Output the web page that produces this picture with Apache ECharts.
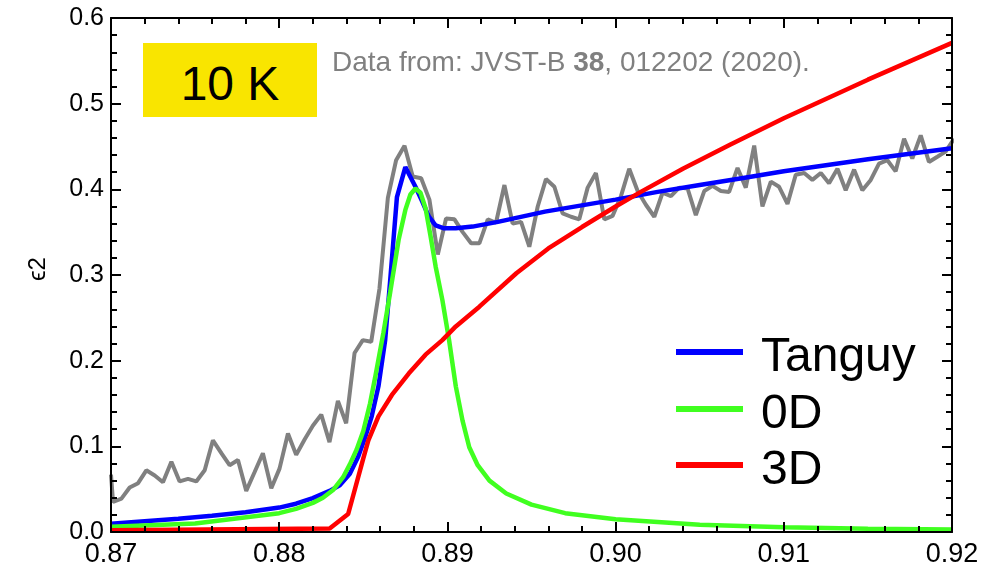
<!DOCTYPE html>
<html>
<head>
<meta charset="utf-8">
<script src="https://cdn.jsdelivr.net/npm/echarts@6/dist/echarts.min.js"></script>
<style>
  html, body { margin: 0; padding: 0; background: #ffffff; }
  #wrap { position: relative; width: 1000px; height: 574px; }
  .layer { position: absolute; left: 0; top: 0; width: 1000px; height: 574px; }
  #curves { z-index: 1; }
  #frame { z-index: 2; }
  .note { position: absolute; z-index: 3; font-family: "Liberation Sans", Arial, Helvetica, sans-serif; white-space: nowrap; }
  #tempBox { left: 143px; top: 43px; width: 174px; height: 74px; background: #f9e500; }
  #tempText { left: 143px; top: 60px; width: 174px; text-align: center; font-size: 48px; line-height: 48px; color: #000; }
  #source { left: 332px; top: 48px; font-size: 28px; line-height: 28px; color: #808080; }
  #source b { font-weight: bold; }
  #yName { left: 7px; top: 254px; width: 60px; height: 30px; text-align: center; font-size: 24px; line-height: 30px; color: #000; transform: rotate(-90deg); }
  .key { position: absolute; z-index: 3; left: 676px; width: 67px; height: 6px; }
  .keyText { left: 761px; font-size: 48px; line-height: 48px; color: #000; }
</style>
</head>
<body>
<div id="wrap">
  <div class="layer" id="curves"></div>
  <div class="layer" id="frame"></div>
  <div class="note" id="tempBox"></div>
  <div class="note" id="tempText">10 K</div>
  <div class="note" id="source">Data from: JVST-B <b>38</b>, 012202 (2020).</div>
  <div class="note" id="yName">ϵ2</div>
  <div id="legend"></div>
</div>
<script>
// Measured absorption spectrum (grey trace): photon energy and epsilon2
const scanX = [
  0.87000, 0.87012, 0.87062, 0.87111, 0.87161, 0.87210, 0.87260, 0.87309, 0.87359, 0.87408, 0.87458,
  0.87507, 0.87557, 0.87606, 0.87656, 0.87705, 0.87755, 0.87804, 0.87854, 0.87903, 0.87953,
  0.88002, 0.88052, 0.88101, 0.88151, 0.88200, 0.88250, 0.88299, 0.88349, 0.88398, 0.88448,
  0.88497, 0.88547, 0.88596, 0.88646, 0.88695, 0.88745, 0.88794, 0.88844, 0.88893, 0.88943,
  0.88992, 0.89042, 0.89091, 0.89141, 0.89190, 0.89240, 0.89289, 0.89339, 0.89388, 0.89438,
  0.89487, 0.89537, 0.89586, 0.89636, 0.89685, 0.89735, 0.89784, 0.89834, 0.89883, 0.89933,
  0.89982, 0.90032, 0.90081, 0.90131, 0.90180, 0.90230, 0.90279, 0.90329, 0.90378, 0.90428,
  0.90477, 0.90527, 0.90576, 0.90626, 0.90675, 0.90725, 0.90774, 0.90824, 0.90873, 0.90923,
  0.90972, 0.91022, 0.91071, 0.91121, 0.91170, 0.91220, 0.91269, 0.91319, 0.91368, 0.91418,
  0.91467, 0.91517, 0.91566, 0.91616, 0.91665, 0.91715, 0.91764, 0.91814, 0.91863, 0.91913,
  0.91962, 0.92012
];
const scanY = [
  0.067, 0.035, 0.039, 0.052, 0.057, 0.072, 0.066, 0.058, 0.082, 0.059, 0.062,
  0.059, 0.072, 0.107, 0.092, 0.078, 0.084, 0.048, 0.070, 0.092, 0.051,
  0.074, 0.115, 0.090, 0.108, 0.124, 0.137, 0.105, 0.153, 0.127, 0.209,
  0.224, 0.222, 0.284, 0.390, 0.434, 0.451, 0.415, 0.413, 0.388, 0.324,
  0.366, 0.365, 0.350, 0.337, 0.337, 0.365, 0.361, 0.405, 0.360, 0.362,
  0.333, 0.380, 0.412, 0.403, 0.372, 0.368, 0.365, 0.402, 0.419, 0.365,
  0.369, 0.392, 0.424, 0.398, 0.382, 0.368, 0.396, 0.392, 0.402, 0.401,
  0.370, 0.398, 0.404, 0.398, 0.397, 0.425, 0.402, 0.451, 0.380, 0.409,
  0.403, 0.383, 0.417, 0.419, 0.411, 0.419, 0.407, 0.424, 0.399, 0.423,
  0.399, 0.411, 0.430, 0.434, 0.421, 0.459, 0.436, 0.463, 0.432, 0.438,
  0.444, 0.459
];

// Tanguy model fit
const tanguyX = [
  0.8700, 0.8720, 0.8740, 0.8760, 0.8780, 0.8800, 0.8810, 0.8820, 0.8830, 0.8836,
  0.8842, 0.8847, 0.8851, 0.8855, 0.8859, 0.8863, 0.8866, 0.8870, 0.8875, 0.8881,
  0.8885, 0.8889, 0.8893, 0.8898, 0.8905, 0.8915, 0.8930, 0.8958, 0.9000, 0.9025,
  0.9050, 0.9075, 0.9100, 0.9125, 0.9150, 0.9175, 0.9200
];
const tanguyY = [
  0.0095, 0.0125, 0.0155, 0.0190, 0.0230, 0.0285, 0.0330, 0.0395, 0.0480, 0.0545,
  0.0680, 0.0880, 0.1100, 0.1350, 0.1700, 0.2240, 0.2940, 0.3910, 0.4260, 0.4030,
  0.3860, 0.3680, 0.3580, 0.3545, 0.3545, 0.3565, 0.3620, 0.3740, 0.3880, 0.3970,
  0.4050, 0.4130, 0.4210, 0.4280, 0.4350, 0.4415, 0.4480
];

// 0D (discrete exciton) contribution
const zeroDX = [
  0.8700, 0.8750, 0.8800, 0.8810, 0.8820, 0.8826, 0.8832, 0.8838, 0.8842, 0.8846,
  0.8850, 0.8854, 0.8857, 0.8862, 0.8866, 0.8871, 0.8875, 0.8878, 0.8881, 0.8884,
  0.8887, 0.8890, 0.8893, 0.8897, 0.8901, 0.8905, 0.8909, 0.8913, 0.8918, 0.8925,
  0.8935, 0.8950, 0.8970, 0.9000, 0.9050, 0.9100, 0.9150, 0.9200
];
const zeroDY = [
  0.0060, 0.0100, 0.0220, 0.0270, 0.0340, 0.0400, 0.0490, 0.0640, 0.0790, 0.0960,
  0.1180, 0.1500, 0.1800, 0.2330, 0.2800, 0.3410, 0.3760, 0.3940, 0.4010, 0.3960,
  0.3780, 0.3450, 0.3100, 0.2710, 0.2240, 0.1700, 0.1300, 0.0990, 0.0780, 0.0600,
  0.0450, 0.0320, 0.0220, 0.0150, 0.0085, 0.0055, 0.0038, 0.0028
];

// 3D (continuum) contribution
const threeDX = [
  0.8700, 0.8830, 0.8841, 0.8850, 0.8853, 0.8859, 0.8867, 0.8877, 0.8887, 0.8897,
  0.8905, 0.8919, 0.8941, 0.8960, 0.8980, 0.9000, 0.9015, 0.9040, 0.9068, 0.9100,
  0.9150, 0.9200
];
const threeDY = [
  0.002, 0.004, 0.021, 0.086, 0.107, 0.135, 0.160, 0.185, 0.207, 0.224,
  0.240, 0.263, 0.302, 0.331, 0.356, 0.380, 0.397, 0.424, 0.452, 0.483,
  0.528, 0.571
];

const legendNames = ['Tanguy', '0D', '3D'];
const legendColors = ['#0000ff', '#40ff20', '#ff0000'];

const xTicks = { min: 0.87, max: 0.92, step: 0.01 };
const yTicks = { min: 0.0, max: 0.6, step: 0.1 };

const FONT = '"Liberation Sans", Arial, Helvetica, sans-serif';
const GRID = { left: 111, right: 48, top: 18, bottom: 42 };

function pairs(xs, ys) {
  return xs.map((x, i) => [x, ys[i]]);
}

// Boxed frame: every side carries inward major and minor ticks
function frameAxis(isX, position, showLabels) {
  const t = isX ? xTicks : yTicks;
  return {
    type: 'value',
    position: position,
    min: t.min,
    max: t.max,
    interval: t.step,
    axisLine: { show: true, onZero: false, lineStyle: { color: '#000000', width: 2 } },
    axisTick: { show: true, inside: true, length: 10, lineStyle: { color: '#000000', width: 2 } },
    minorTick: { show: true, splitNumber: 5, length: 6, lineStyle: { color: '#000000', width: 2 } },
    splitLine: { show: false },
    axisLabel: {
      show: showLabels,
      color: '#000',
      fontFamily: FONT,
      fontSize: isX ? 27 : 25,
      margin: isX ? 9 : 7,
      formatter: v => v.toFixed(isX ? 2 : 1)
    }
  };
}

// Same scale as the frame, but drawing nothing of its own
function plotAxis(isX) {
  const t = isX ? xTicks : yTicks;
  return { type: 'value', min: t.min, max: t.max, interval: t.step, show: false };
}

// Legend keys: a coloured bar and its label per model curve
const legendBox = document.getElementById('legend');
const keyCentres = [352, 409, 465];
legendNames.forEach((name, i) => {
  const bar = document.createElement('div');
  bar.className = 'key';
  bar.style.top = (keyCentres[i] - 3) + 'px';
  bar.style.background = legendColors[i];
  legendBox.appendChild(bar);
  const label = document.createElement('div');
  label.className = 'note keyText';
  label.style.top = (keyCentres[i] - 21) + 'px';
  label.textContent = name;
  legendBox.appendChild(label);
});

// Curves
const curves = echarts.init(document.getElementById('curves'));
curves.setOption({
  animation: false,
  backgroundColor: 'transparent',
  grid: GRID,
  xAxis: plotAxis(true),
  yAxis: plotAxis(false),
  series: [
    {
      name: 'Measured',
      type: 'line',
      data: pairs(scanX, scanY),
      symbol: 'none',
      clip: false,
      lineStyle: { color: '#808080', width: 4 }
    },
    {
      name: legendNames[0],
      type: 'line',
      data: pairs(tanguyX, tanguyY),
      symbol: 'none',
      lineStyle: { color: legendColors[0], width: 4.5 }
    },
    {
      name: legendNames[1],
      type: 'line',
      data: pairs(zeroDX, zeroDY),
      symbol: 'none',
      lineStyle: { color: legendColors[1], width: 4.5 }
    },
    {
      name: legendNames[2],
      type: 'line',
      data: pairs(threeDX, threeDY),
      symbol: 'none',
      lineStyle: { color: legendColors[2], width: 4.5 }
    }
  ]
});

// Frame, ticks and tick labels
const frame = echarts.init(document.getElementById('frame'));
frame.setOption({
  animation: false,
  backgroundColor: 'transparent',
  grid: GRID,
  xAxis: [frameAxis(true, 'bottom', true), frameAxis(true, 'top', false)],
  yAxis: [frameAxis(false, 'left', true), frameAxis(false, 'right', false)],
  series: [{ type: 'line', symbol: 'none', data: [] }]
});
</script>
</body>
</html>
